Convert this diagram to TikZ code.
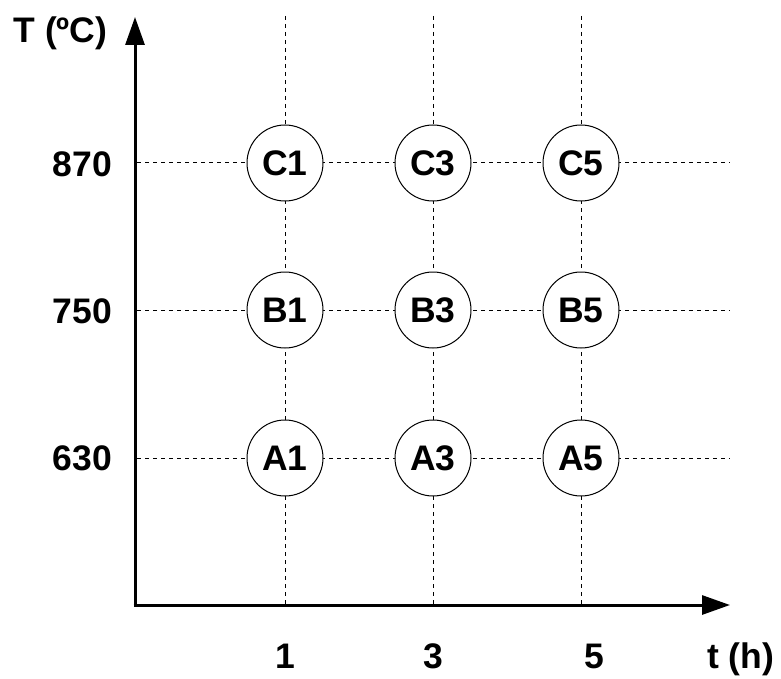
\documentclass[tikz,border=0pt]{standalone}
\usepackage{fontspec}
\setmainfont{Liberation Sans}
\usetikzlibrary{arrows.meta}
\begin{document}
\begin{tikzpicture}[x=1pt,y=-1pt,
  gridline/.style={line width=1pt,dash pattern=on 4pt off 4pt},
  axisline/.style={line width=3pt,-{Triangle[length=28pt,width=19pt]}},
  sample/.style={circle,draw,line width=1pt,fill=white,minimum size=76pt,inner sep=0pt,font=\fontsize{35.5}{42}\selectfont\bfseries},
  lbl/.style={inner sep=0pt,anchor=base,font=\fontsize{35.5}{42}\selectfont\bfseries}]
\useasboundingbox (0,0) rectangle (781,679);
% grid
\foreach \x in {285,433,581} \draw[gridline] (\x,16) -- (\x,605);
\foreach \y in {163,310,458} \draw[gridline] (137,\y) -- (730,\y);
% axes
\coordinate (O) at (135,605);
\coordinate (ytip) at (135,17);
\coordinate (xtip) at (730,605);
\draw[axisline] ([yshift=1.5pt]O) -- (ytip);
\draw[axisline] ([xshift=-1.5pt]O) -- (xtip);
% samples
\node[sample] (C1) at (285,163) {C1};
\node[sample] (C3) at (433,163) {C3};
\node[sample] (C5) at (581,163) {C5};
\node[sample] (B1) at (285,310) {B1};
\node[sample] (B3) at (433,310) {B3};
\node[sample] (B5) at (581,310) {B5};
\node[sample] (A1) at (285,458) {A1};
\node[sample] (A3) at (433,458) {A3};
\node[sample] (A5) at (581,458) {A5};
% labels
\node[lbl] (ylab) at (60.5,43) {T (ºC)};
\node[lbl] (l870) at (82.5,176) {870};
\node[lbl] (l750) at (82.5,323) {750};
\node[lbl] (l630) at (82.5,470.5) {630};
\node[lbl] (t1) at (285,668) {1};
\node[lbl] (t3) at (433,668) {3};
\node[lbl] (t5) at (594,668) {5};
\node[lbl] (xlab) at (740.5,668) {t (h)};
\end{tikzpicture}
\end{document}
